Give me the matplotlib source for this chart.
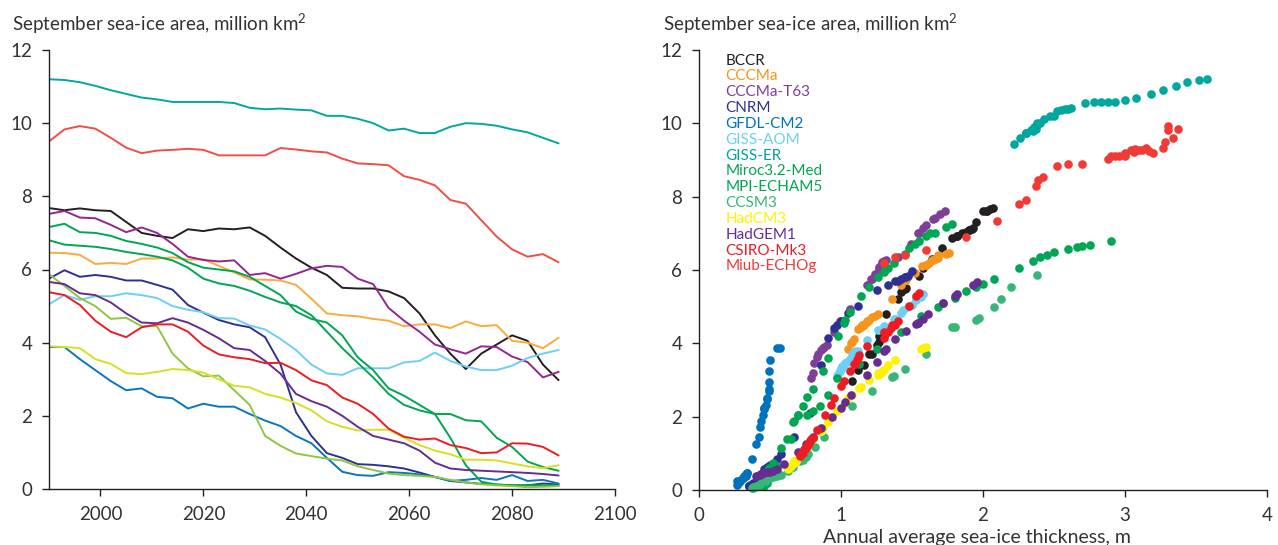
import matplotlib
matplotlib.use('Agg')
import matplotlib.pyplot as plt

plt.rcParams['font.family'] = ['Lato', 'DejaVu Sans']
plt.rcParams['mathtext.default'] = 'regular'

years = [1990, 1993, 1996, 1999, 2002, 2005, 2008, 2011, 2014, 2017, 2020, 2023,
         2026, 2029, 2032, 2035, 2038, 2041, 2044, 2047, 2050, 2053, 2056, 2059,
         2062, 2065, 2068, 2071, 2074, 2077, 2080, 2083, 2086, 2089]

# September sea-ice area, million km2 (left panel, also y of right panel)
area_bccr = [7.68, 7.62, 7.67, 7.62, 7.6, 7.3, 7.0, 6.92, 6.86, 7.1, 7.05, 7.12, 7.1, 7.15, 6.92, 6.6, 6.3,
             6.05, 5.85, 5.5, 5.48, 5.48, 5.4, 5.22, 4.8, 4.2, 3.7, 3.28, 3.7, 3.95, 4.2, 4.05, 3.4, 2.98]
area_cccma = [6.46, 6.45, 6.4, 6.15, 6.18, 6.15, 6.3, 6.3, 6.33, 6.27, 6.28, 6.1, 5.92, 5.73, 5.72, 5.7, 5.58,
              5.2, 4.8, 4.75, 4.72, 4.65, 4.6, 4.45, 4.5, 4.5, 4.4, 4.58, 4.45, 4.48, 4.05, 4.0, 3.85, 4.13]
area_t63 = [7.52, 7.6, 7.42, 7.4, 7.22, 7.02, 7.15, 7.0, 6.7, 6.35, 6.26, 6.22, 6.25, 5.85, 5.9, 5.75, 5.88,
            6.03, 6.1, 6.07, 5.75, 5.6, 4.95, 4.6, 4.3, 3.95, 3.82, 3.7, 3.9, 3.88, 3.62, 3.47, 3.05, 3.2]
area_cnrm = [5.75, 5.98, 5.8, 5.85, 5.8, 5.7, 5.7, 5.58, 5.45, 5.03, 4.82, 4.62, 4.5, 4.42, 4.15, 3.4, 2.1,
             1.45, 0.98, 0.85, 0.68, 0.66, 0.62, 0.56, 0.45, 0.33, 0.22, 0.18, 0.14, 0.12, 0.1, 0.1, 0.15, 0.12]
area_gfdl = [3.88, 3.88, 3.55, 3.25, 2.95, 2.7, 2.75, 2.52, 2.48, 2.2, 2.33, 2.25, 2.25, 2.05, 1.87, 1.72, 1.45,
             1.25, 0.85, 0.47, 0.38, 0.36, 0.46, 0.44, 0.4, 0.33, 0.22, 0.25, 0.3, 0.25, 0.38, 0.22, 0.25, 0.15]
area_aom = [5.05, 5.3, 5.17, 5.27, 5.27, 5.35, 5.3, 5.22, 5.0, 4.9, 4.83, 4.67, 4.66, 4.47, 4.36, 4.1, 3.8,
            3.4, 3.16, 3.12, 3.3, 3.3, 3.3, 3.46, 3.5, 3.73, 3.5, 3.35, 3.25, 3.25, 3.37, 3.58, 3.7, 3.8]
area_giss_er = [11.2, 11.18, 11.12, 11.02, 10.9, 10.8, 10.7, 10.65, 10.58, 10.58, 10.58, 10.58, 10.55, 10.42,
                10.38, 10.4, 10.37, 10.35, 10.2, 10.2, 10.12, 10.0, 9.8, 9.85, 9.73, 9.73, 9.9, 10.0, 9.98,
                9.93, 9.83, 9.75, 9.6, 9.45]
area_miroc = [7.16, 7.25, 7.02, 7.0, 6.92, 6.78, 6.7, 6.6, 6.45, 6.2, 6.05, 6.0, 5.95, 5.8, 5.55, 5.3, 4.85,
              4.65, 4.55, 4.2, 3.6, 3.25, 2.75, 2.55, 2.3, 2.05, 2.05, 1.88, 1.85, 1.4, 1.15, 0.75, 0.6, 0.5]
area_mpi = [6.8, 6.68, 6.65, 6.62, 6.56, 6.48, 6.42, 6.35, 6.25, 6.05, 5.75, 5.62, 5.55, 5.42, 5.25, 5.1, 5.0,
            4.75, 4.3, 3.85, 3.45, 3.05, 2.6, 2.3, 2.15, 2.05, 1.4, 0.65, 0.2, 0.12, 0.1, 0.1, 0.1, 0.1]
area_ccsm = [5.87, 5.55, 5.22, 5.0, 4.65, 4.68, 4.45, 4.45, 3.7, 3.3, 3.08, 3.1, 2.7, 2.3, 1.45, 1.18, 0.97,
             0.9, 0.83, 0.78, 0.62, 0.52, 0.42, 0.38, 0.36, 0.33, 0.25, 0.18, 0.13, 0.1, 0.08, 0.05, 0.06, 0.08]
area_hadcm = [3.9, 3.88, 3.85, 3.55, 3.42, 3.17, 3.14, 3.2, 3.28, 3.25, 3.18, 3.0, 2.82, 2.78, 2.6, 2.5, 2.35,
              2.15, 1.85, 1.7, 1.6, 1.62, 1.62, 1.4, 1.2, 1.05, 0.95, 0.8, 0.8, 0.78, 0.7, 0.62, 0.57, 0.65]
area_hadgem = [5.66, 5.6, 5.35, 5.3, 5.1, 4.8, 4.55, 4.53, 4.67, 4.55, 4.35, 4.12, 3.85, 3.8, 3.5, 3.15, 2.6,
               2.4, 2.25, 2.0, 1.7, 1.45, 1.35, 1.25, 1.05, 0.72, 0.56, 0.52, 0.5, 0.48, 0.46, 0.44, 0.41, 0.37]
area_csiro = [5.38, 5.3, 5.03, 4.6, 4.3, 4.15, 4.42, 4.5, 4.5, 4.3, 3.92, 3.68, 3.6, 3.55, 3.44, 3.45, 3.25,
              2.97, 2.84, 2.5, 2.33, 2.05, 1.65, 1.43, 1.35, 1.38, 1.2, 1.12, 0.98, 1.0, 1.25, 1.24, 1.15, 0.92]
area_miub = [9.5, 9.83, 9.92, 9.85, 9.6, 9.33, 9.18, 9.25, 9.27, 9.3, 9.27, 9.12, 9.12, 9.12, 9.12, 9.32, 9.28,
             9.23, 9.2, 9.03, 8.9, 8.88, 8.85, 8.55, 8.45, 8.3, 7.9, 7.8, 7.35, 6.9, 6.55, 6.35, 6.42, 6.2]

# annual average sea-ice thickness, m (right panel x)
thick_bccr = [2.07, 2.03, 2.05, 2.02, 2.0, 1.95, 1.85, 1.82, 1.78, 1.9, 1.88, 1.92, 1.9, 1.93, 1.82, 1.71, 1.64,
              1.58, 1.55, 1.46, 1.45, 1.44, 1.42, 1.4, 1.32, 1.27, 1.22, 1.12, 1.2, 1.25, 1.3, 1.27, 1.16, 1.08]
thick_cccma = [1.76, 1.74, 1.68, 1.6, 1.62, 1.6, 1.66, 1.66, 1.68, 1.64, 1.65, 1.57, 1.52, 1.46, 1.45, 1.44, 1.42,
               1.36, 1.26, 1.24, 1.22, 1.2, 1.18, 1.14, 1.15, 1.16, 1.12, 1.18, 1.14, 1.15, 1.08, 1.07, 1.05, 1.09]
thick_t63 = [1.7, 1.73, 1.66, 1.65, 1.6, 1.55, 1.58, 1.54, 1.49, 1.4, 1.32, 1.29, 1.3, 1.24, 1.25, 1.22, 1.24,
             1.27, 1.28, 1.27, 1.21, 1.18, 1.06, 0.99, 0.95, 0.9, 0.86, 0.84, 0.88, 0.87, 0.83, 0.81, 0.79, 0.8]
thick_cnrm = [1.42, 1.5, 1.45, 1.47, 1.45, 1.4, 1.38, 1.33, 1.25, 1.12, 1.05, 1.0, 0.97, 0.95, 0.91, 0.86, 0.78,
              0.67, 0.58, 0.55, 0.5, 0.49, 0.48, 0.46, 0.44, 0.42, 0.4, 0.38, 0.37, 0.36, 0.35, 0.35, 0.36, 0.35]
thick_gfdl = [0.57, 0.55, 0.5, 0.49, 0.49, 0.49, 0.49, 0.48, 0.48, 0.46, 0.47, 0.46, 0.46, 0.45, 0.44, 0.43, 0.42,
              0.4, 0.37, 0.34, 0.33, 0.32, 0.34, 0.33, 0.33, 0.31, 0.28, 0.29, 0.3, 0.28, 0.32, 0.28, 0.27, 0.27]
thick_aom = [1.5, 1.55, 1.53, 1.56, 1.55, 1.58, 1.56, 1.53, 1.47, 1.44, 1.42, 1.38, 1.37, 1.3, 1.26, 1.18, 1.12,
             1.02, 0.98, 0.97, 1.0, 1.0, 1.0, 1.03, 1.04, 1.09, 1.04, 1.01, 0.99, 0.99, 1.01, 1.06, 1.08, 1.1]
thick_giss_er = [3.58, 3.52, 3.44, 3.36, 3.27, 3.18, 3.08, 3.0, 2.93, 2.88, 2.83, 2.78, 2.72, 2.62, 2.58, 2.6,
                 2.55, 2.52, 2.5, 2.47, 2.43, 2.4, 2.35, 2.37, 2.3, 2.3, 2.36, 2.38, 2.38, 2.37, 2.34, 2.3, 2.26, 2.22]
thick_miroc = [1.74, 1.78, 1.66, 1.63, 1.6, 1.55, 1.52, 1.48, 1.45, 1.37, 1.33, 1.31, 1.3, 1.26, 1.2, 1.14, 1.06,
               1.03, 1.02, 0.98, 0.91, 0.87, 0.8, 0.76, 0.73, 0.7, 0.7, 0.67, 0.66, 0.62, 0.58, 0.52, 0.49, 0.47]
thick_mpi = [2.9, 2.75, 2.7, 2.66, 2.6, 2.5, 2.45, 2.4, 2.35, 2.25, 2.08, 2.0, 1.95, 1.88, 1.8, 1.72, 1.68,
             1.56, 1.42, 1.25, 1.13, 0.97, 0.91, 0.85, 0.8, 0.76, 0.65, 0.55, 0.48, 0.46, 0.45, 0.44, 0.44, 0.43]
thick_ccsm = [2.38, 2.2, 2.13, 2.08, 1.95, 1.97, 1.8, 1.78, 1.6, 1.45, 1.36, 1.37, 1.22, 1.08, 0.88, 0.82, 0.77,
              0.75, 0.73, 0.71, 0.66, 0.63, 0.58, 0.55, 0.52, 0.5, 0.47, 0.44, 0.42, 0.4, 0.38, 0.37, 0.38, 0.39]
thick_hadcm = [1.6, 1.58, 1.56, 1.38, 1.33, 1.27, 1.26, 1.28, 1.3, 1.29, 1.26, 1.2, 1.14, 1.13, 1.08, 1.05, 1.02,
               0.97, 0.91, 0.87, 0.85, 0.86, 0.86, 0.8, 0.76, 0.73, 0.71, 0.68, 0.68, 0.67, 0.66, 0.64, 0.63, 0.65]
thick_hadgem = [1.96, 1.93, 1.82, 1.8, 1.72, 1.61, 1.54, 1.53, 1.58, 1.54, 1.46, 1.38, 1.32, 1.3, 1.25, 1.18,
                1.07, 1.03, 1.0, 0.94, 0.86, 0.8, 0.78, 0.75, 0.7, 0.6, 0.55, 0.52, 0.5, 0.48, 0.46, 0.44, 0.42, 0.4]
thick_csiro = [1.55, 1.53, 1.48, 1.4, 1.33, 1.3, 1.35, 1.38, 1.36, 1.3, 1.18, 1.13, 1.12, 1.11, 1.09, 1.1, 1.06,
               1.02, 1.0, 0.95, 0.93, 0.89, 0.83, 0.8, 0.78, 0.79, 0.76, 0.74, 0.72, 0.73, 0.77, 0.77, 0.75, 0.71]
thick_miub = [3.28, 3.3, 3.3, 3.37, 3.34, 3.27, 3.2, 3.17, 3.12, 3.07, 3.04, 3.0, 2.96, 2.93, 2.9, 3.15, 3.1,
              3.06, 3.0, 2.88, 2.7, 2.6, 2.52, 2.42, 2.39, 2.37, 2.3, 2.25, 2.1, 1.88, 1.6, 1.38, 1.45, 1.3]

names = ['BCCR', 'CCCMa', 'CCCMa-T63', 'CNRM', 'GFDL-CM2', 'GISS-AOM', 'GISS-ER', 'Miroc3.2-Med',
         'MPI-ECHAM5', 'CCSM3', 'HadCM3', 'HadGEM1', 'CSIRO-Mk3', 'Miub-ECHOg']
areas = [area_bccr, area_cccma, area_t63, area_cnrm, area_gfdl, area_aom, area_giss_er, area_miroc,
         area_mpi, area_ccsm, area_hadcm, area_hadgem, area_csiro, area_miub]
thicks = [thick_bccr, thick_cccma, thick_t63, thick_cnrm, thick_gfdl, thick_aom, thick_giss_er, thick_miroc,
          thick_mpi, thick_ccsm, thick_hadcm, thick_hadgem, thick_csiro, thick_miub]
dot_colors = ['#231f20', '#f7941d', '#7f3f98', '#2e3192', '#0072bc', '#6dcff6', '#00a79d', '#00a651',
              '#00a651', '#37b678', '#fff200', '#662d91', '#ed1c24', '#ef3a36']
line_colors = ['#231f20', '#fbaa3f', '#92278f', '#2e3192', '#0a75c0', '#6dcff6', '#00a99d', '#00a651',
               '#00a651', '#8dc63f', '#d7df23', '#662d91', '#ed1c24', '#f04e45']

dark = '#231f20'
tick_kw = dict(direction='out', length=5, width=1, pad=7, labelsize=13.5,
               color=dark, labelcolor='#333333')

fig = plt.figure(figsize=(12.78, 5.45), dpi=100)

# left: area vs year
ax1 = fig.add_axes([49/1278, 1-489/545, 566/1278, 439/545])
for a, c in zip(areas, line_colors):
    ax1.plot(years, a, color=c, linewidth=1.4, solid_joinstyle='round')
ax1.set_xlim(1990, 2100)
ax1.set_ylim(0, 12)
ax1.set_xticks([2000, 2020, 2040, 2060, 2080, 2100])
ax1.set_yticks([0, 2, 4, 6, 8, 10, 12])
ax1.tick_params(**tick_kw)

# right: area vs thickness
ax2 = fig.add_axes([699/1278, 1-490/545, 568/1278, 440/545])
for t, a, c in zip(thicks, areas, dot_colors):
    ax2.plot(t, a, 'o', color=c, markersize=6.2, markeredgewidth=0, clip_on=False)
ax2.set_xlim(0, 4)
ax2.set_ylim(0, 12)
ax2.set_xticks([0, 1, 2, 3, 4])
ax2.set_yticks([0, 2, 4, 6, 8, 10, 12])
ax2.tick_params(**tick_kw)

for ax in (ax1, ax2):
    for s in ('top', 'right'):
        ax.spines[s].set_visible(False)
    for s in ('left', 'bottom'):
        ax.spines[s].set_color(dark)
        ax.spines[s].set_linewidth(1)

# model names, coloured
for i, (n, c) in enumerate(zip(names, dot_colors)):
    ax2.text(0.047, 0.976 - i*0.036, n, transform=ax2.transAxes, color=c,
             fontsize=11, ha='left', va='center')

title = 'September sea-ice area, million km$^{2}$'
fig.text(12/1278, 1-31/545, title, fontsize=13.5, color='#333333', ha='left', va='baseline')
fig.text(663/1278, 1-31/545, title, fontsize=13.5, color='#333333', ha='left', va='baseline')
fig.text(977/1278, 1-538/545, 'Annual average sea-ice thickness, m', fontsize=14,
         color='#333333', ha='center', va='center')

fig.savefig('out.png', dpi=100)
